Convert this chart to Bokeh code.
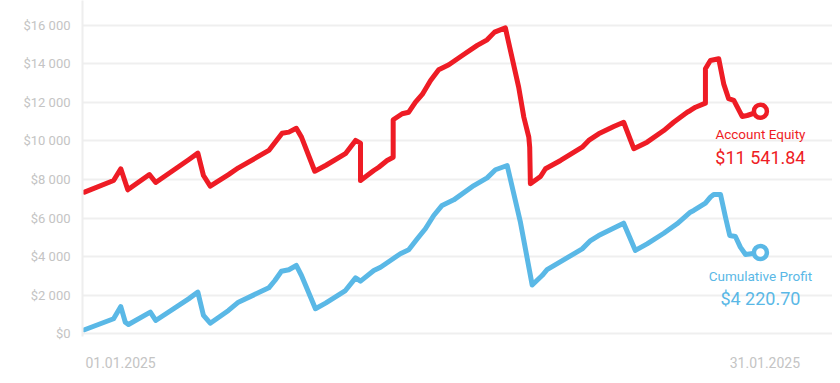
from bokeh.plotting import figure
from bokeh.models import FixedTicker, Range1d, ColumnDataSource
from bokeh.core.properties import value
from bokeh.embed import file_html
from bokeh.resources import INLINE

# ---- data (days since 01.01.2025, USD) ----
equity_days = [0.00, 1.29, 1.61, 1.92, 2.88, 3.16, 4.62, 5.03, 5.28, 5.58, 6.39, 6.83,
               8.18, 8.77, 9.07, 9.40, 9.63, 10.22, 10.70, 11.58, 12.03, 12.25, 12.25,
               12.84, 13.06, 13.43, 13.70, 13.70, 14.10, 14.39, 14.69, 14.99, 15.36,
               15.72, 16.17, 16.83, 17.43, 17.87, 18.20, 18.68, 19.27, 19.50, 19.72,
               19.76, 19.79, 20.24, 20.46, 21.13, 22.09, 22.38, 22.82, 23.49, 23.93,
               24.38, 24.97, 25.71, 26.15, 26.75, 26.89, 27.12, 27.56, 27.56, 27.78,
               28.15, 28.37, 28.59, 28.82, 29.19, 29.41, 30.00]
equity = [7350, 7950, 8560, 7470, 8260, 7850, 9030, 9370, 8210, 7660, 8260, 8610,
          9510, 10400, 10460, 10660, 10200, 8430, 8730, 9340, 10030, 9890, 7950,
          8470, 8640, 8990, 9160, 11100, 11410, 11490, 12010, 12410, 13130,
          13690, 13950, 14480, 14950, 15240, 15640, 15860, 12790, 11230, 10200,
          9680, 7780, 8160, 8560, 8990, 9680, 10030, 10370, 10750, 10970,
          9600, 9940, 10540, 10970, 11490, 11580, 11750, 11960, 13740, 14170,
          14260, 12960, 12190, 12100, 11270, 11320, 11541.84]

profit_days = [0.00, 1.29, 1.61, 1.81, 1.95, 2.92, 3.16, 4.62, 5.03, 5.28, 5.58, 6.39,
               6.83, 8.18, 8.45, 8.74, 9.07, 9.40, 9.63, 10.25, 10.70, 11.58, 12.03,
               12.25, 12.84, 13.14, 13.58, 14.02, 14.39, 14.77, 15.13, 15.50, 15.87,
               16.39, 17.28, 17.87, 18.24, 18.76, 19.35, 19.87, 20.31, 20.53, 22.09,
               22.46, 22.82, 23.34, 23.93, 24.45, 24.97, 25.71, 26.30, 26.89, 27.04,
               27.56, 27.78, 27.93, 28.23, 28.45, 28.64, 28.89, 29.11, 29.34, 30.00]
profit = [220, 790, 1420, 610, 490, 1130, 700, 1820, 2170, 960, 560, 1220,
          1650, 2390, 2770, 3250, 3330, 3550, 3030, 1310, 1600, 2250, 2910,
          2740, 3290, 3460, 3810, 4160, 4360, 4930, 5450, 6140, 6660,
          6950, 7690, 8090, 8510, 8730, 5780, 2540, 3030, 3330, 4410,
          4840, 5100, 5400, 5740, 4330, 4670, 5220, 5710, 6310, 6400,
          6780, 7090, 7230, 7230, 6050, 5100, 5050, 4500, 4120, 4220.70]

y_ticks = [0, 2000, 4000, 6000, 8000, 10000, 12000, 14000, 16000]
y_labels = ["$0", "$2 000", "$4 000", "$6 000", "$8 000", "$10 000", "$12 000", "$14 000", "$16 000"]
x_labels = ["01.01.2025", "31.01.2025"]
series_names = ["Account Equity", "Cumulative Profit"]
final_texts = ["$11 541.84", "$4 220.70"]

RED = "#ee1c25"
BLUE = "#5ab8e6"
FONT = "Roboto"

p = figure(width=832, height=375, output_backend="svg", toolbar_location=None,
           x_range=Range1d(-0.09, 33.2), y_range=Range1d(-130, 17278),
           min_border_left=82, min_border_right=0, min_border_top=0, min_border_bottom=39)
p.outline_line_color = None
p.background_fill_color = "white"
p.border_fill_color = "white"

# y axis
p.yaxis.ticker = FixedTicker(ticks=y_ticks)
p.yaxis.major_label_overrides = {t: l for t, l in zip(y_ticks, y_labels)}
p.yaxis.axis_line_color = "#eeeeee"
p.yaxis.axis_line_width = 2
p.yaxis.major_tick_line_color = None
p.yaxis.minor_tick_line_color = None
p.yaxis.major_tick_out = 0
p.yaxis.major_tick_in = 0
p.yaxis.major_label_standoff = 12
p.yaxis.major_label_text_font = FONT
p.yaxis.major_label_text_font_size = "13px"
p.yaxis.major_label_text_color = "#c4c4c4"

# x axis (label positions)
x_tick_pos = [equity_days[0] + 1.6, equity_days[-1] + 0.2]
p.xaxis.ticker = FixedTicker(ticks=x_tick_pos)
p.xaxis.major_label_overrides = {t: l for t, l in zip(x_tick_pos, x_labels)}
p.xaxis.axis_line_color = None
p.xaxis.major_tick_line_color = None
p.xaxis.minor_tick_line_color = None
p.xaxis.major_tick_out = 0
p.xaxis.major_tick_in = 0
p.xaxis.major_label_standoff = 20
p.xaxis.major_label_text_font = FONT
p.xaxis.major_label_text_font_size = "14px"
p.xaxis.major_label_text_color = "#c4c4c4"

p.xgrid.grid_line_color = None
p.ygrid.ticker = FixedTicker(ticks=y_ticks)
p.ygrid.grid_line_color = "#efefef"
p.ygrid.grid_line_width = 2

p.line(equity_days, equity, line_color=RED, line_width=5, line_join="round", line_cap="round")
p.line(profit_days, profit, line_color=BLUE, line_width=5, line_join="round", line_cap="round")

ends = ColumnDataSource(dict(
    x=[equity_days[-1], profit_days[-1]],
    y=[equity[-1], profit[-1]],
    color=[RED, BLUE],
    name=series_names,
    val=final_texts,
))
p.scatter("x", "y", source=ends, size=13, fill_color="white", line_color="color", line_width=4.5)
p.text("x", "y", text="name", source=ends, text_color="color", text_align="center",
       text_baseline="middle", y_offset=23, text_font=value(FONT), text_font_size="13.5px")
p.text("x", "y", text="val", source=ends, text_color="color", text_align="center",
       text_baseline="middle", y_offset=46, text_font=value(FONT), text_font_size="18px")

open("out.html", "w").write(file_html(p, INLINE))
